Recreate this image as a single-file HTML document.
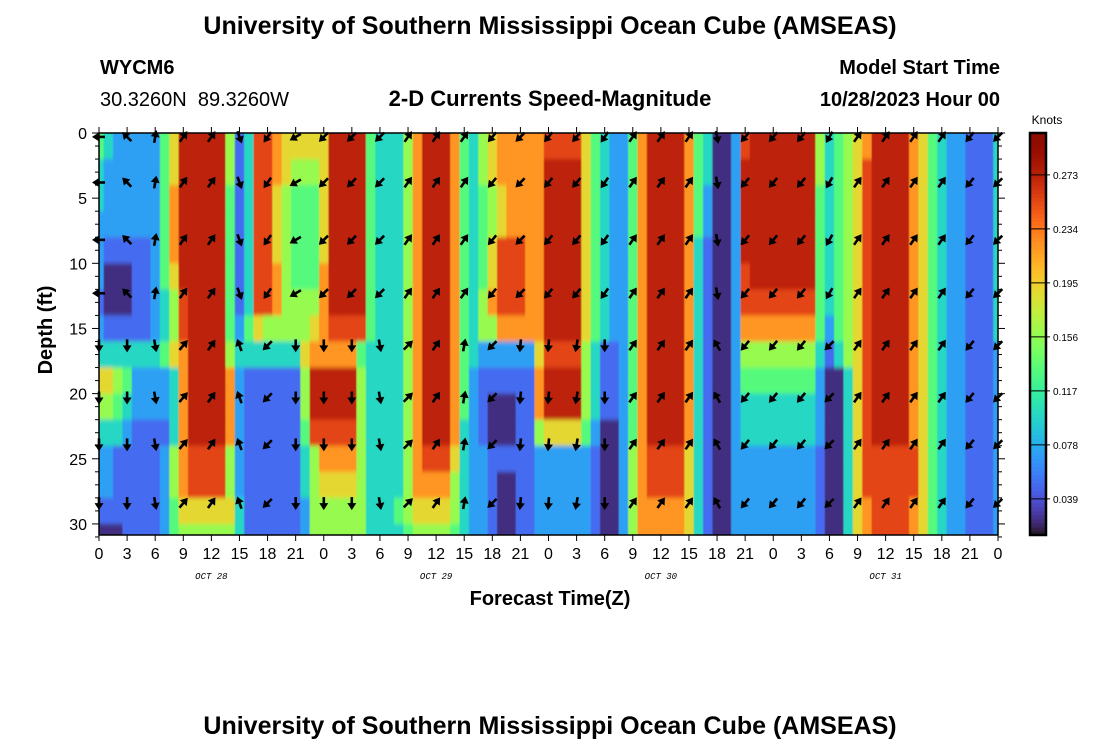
<!DOCTYPE html>
<html><head><meta charset="utf-8"><style>
html,body{margin:0;padding:0;background:#fff;}
svg{display:block;font-family:"Liberation Sans",sans-serif;}
</style></head><body>
<svg id="chart" width="1100" height="750" viewBox="0 0 1100 750" xmlns="http://www.w3.org/2000/svg">
<defs><clipPath id="plotclip"><rect x="99" y="133" width="899" height="402"/></clipPath>
<filter id="soft" x="-2%" y="-2%" width="104%" height="104%"><feGaussianBlur stdDeviation="0.6 2.2"/></filter></defs>
<text x="550" y="34" text-anchor="middle" font-size="25" font-weight="bold">University of Southern Mississippi Ocean Cube (AMSEAS)</text>
<text x="100" y="74" font-size="20" font-weight="bold">WYCM6</text>
<text x="100" y="106" font-size="20" xml:space="preserve">30.3260N  89.3260W</text>
<text x="550" y="106" text-anchor="middle" font-size="22" font-weight="bold">2-D Currents Speed-Magnitude</text>
<text x="1000" y="74" text-anchor="end" font-size="20" font-weight="bold">Model Start Time</text>
<text x="1000" y="106" text-anchor="end" font-size="20" font-weight="bold">10/28/2023 Hour 00</text>
<g clip-path="url(#plotclip)"><g id="heat" filter="url(#soft)"></g></g>
<g id="arrows"></g>
<g id="axes"></g>
<text transform="translate(52,330) rotate(-90)" text-anchor="middle" font-size="20" font-weight="bold">Depth (ft)</text>
<text x="550" y="605" text-anchor="middle" font-size="20" font-weight="bold">Forecast Time(Z)</text>
<g id="cbar"></g>
<text x="1047" y="124" text-anchor="middle" font-size="12">Knots</text>
<text x="550" y="734" text-anchor="middle" font-size="25" font-weight="bold">University of Southern Mississippi Ocean Cube (AMSEAS)</text>
</svg>
<script>
// ---- data ----
const hours = Array.from({length:97},(_,i)=>i);
const depthEdges = [0,2,4,6,8,10,12,14,16,18,20,22,24,26,28,30,31];
const levelSpeeds = [0.024,0.050,0.072,0.100,0.132,0.158,0.190,0.222,0.255,0.272];
// each row: "startHour:level" runs
const speedRows = [
"0:4,1:3,2:2,7:4,8:6,9:9,14:5,15:1,16:3,17:8,19:7,20:6,25:9,29:4,30:3,33:5,34:7,35:9,38:7,39:4,40:3,41:5,42:6,43:7,48:8,52:6,53:4,54:3,55:2,57:4,58:7,59:9,63:7,64:4,65:3,66:0,68:2,69:8,70:9,77:5,78:3,79:4,80:5,81:6,82:7,83:9,87:7,88:6,89:4,90:3,91:2,93:1,96:3",
"0:3,1:2,7:4,8:6,9:9,14:5,15:1,16:3,17:8,19:7,20:6,21:5,24:6,25:9,29:4,30:3,33:5,34:7,35:9,38:7,39:4,40:3,41:5,42:6,43:7,48:9,52:6,53:4,54:3,55:2,57:4,58:7,59:9,63:7,64:4,65:3,66:0,68:2,69:9,77:5,78:3,79:4,80:5,81:6,82:8,83:9,87:7,88:6,89:4,90:3,91:2,93:1,96:3",
"0:3,1:2,7:4,8:7,9:9,14:4,15:1,16:3,17:8,19:6,20:5,21:4,24:6,25:9,29:4,30:3,33:5,34:7,35:9,38:7,39:4,40:3,41:4,42:5,43:6,44:7,48:9,52:6,53:4,54:3,55:2,57:4,58:7,59:9,63:7,64:4,65:2,66:0,68:2,69:9,77:4,78:3,79:4,80:5,81:6,82:8,83:9,87:7,88:6,89:4,90:3,91:2,93:1,96:3",
"0:2,1:2,7:4,8:7,9:9,14:4,15:1,16:3,17:8,19:6,20:5,21:4,24:6,25:9,29:4,30:3,33:5,34:7,35:9,38:7,39:4,40:3,41:4,42:5,43:6,44:7,48:9,52:6,53:4,54:3,55:2,57:4,58:7,59:9,63:7,64:4,65:2,66:0,68:2,69:9,77:4,78:3,79:4,80:5,81:6,82:8,83:9,87:7,88:6,89:4,90:3,91:2,93:1,96:3",
"0:2,1:1,6:2,7:4,8:7,9:9,14:4,15:1,16:3,17:8,19:6,20:5,21:4,24:6,25:9,29:4,30:3,33:5,34:7,35:9,38:7,39:4,40:3,41:4,42:6,43:8,46:7,48:9,52:6,53:4,54:3,55:2,57:4,58:7,59:9,63:7,64:3,65:1,66:0,68:2,69:9,77:4,78:3,79:4,80:5,81:6,82:8,83:9,87:7,88:6,89:4,90:3,91:2,93:1,96:3",
"0:2,1:0,4:1,6:2,7:4,8:6,9:9,14:4,15:1,16:3,17:8,19:7,20:5,21:4,24:7,25:9,29:4,30:3,33:5,34:7,35:9,38:7,39:4,40:3,41:4,42:6,43:8,46:7,48:9,52:6,53:4,54:3,55:2,57:4,58:7,59:9,63:7,64:3,65:1,66:0,68:2,69:8,70:9,77:4,78:3,79:4,80:5,81:6,82:8,83:9,87:7,88:6,89:4,90:3,91:2,93:1,96:3",
"0:1,1:0,4:1,6:2,7:3,8:5,9:8,10:9,14:4,15:1,16:3,17:8,19:7,20:5,24:7,25:9,29:4,30:3,33:5,34:7,35:9,38:7,39:4,40:3,41:5,42:7,43:8,46:7,48:9,52:6,53:4,54:3,55:2,57:4,58:7,59:9,63:7,64:3,65:1,66:0,68:2,69:8,77:4,78:3,79:4,80:5,81:6,82:8,83:9,87:7,88:6,89:4,90:3,91:2,93:1,96:3",
"0:2,1:1,6:2,7:3,8:5,9:8,10:9,14:4,15:2,16:4,17:6,18:5,23:6,24:7,25:8,29:4,30:3,33:5,34:7,35:9,38:7,39:4,40:3,41:5,43:7,48:9,52:6,53:4,54:3,55:2,57:4,58:7,59:9,63:7,64:3,65:1,66:0,68:2,69:7,77:4,78:2,79:4,80:5,81:6,82:8,83:9,87:7,88:6,89:4,90:3,91:2,93:1,96:3",
"0:3,7:4,8:6,9:7,10:9,14:5,15:3,22:6,23:7,28:4,29:3,33:5,34:7,35:9,38:7,39:4,40:3,41:2,47:6,48:8,52:5,53:3,54:1,56:2,57:4,58:7,59:9,63:7,64:3,65:1,66:0,68:2,69:5,77:3,78:1,79:3,80:5,81:6,82:8,83:9,87:7,88:6,89:4,90:3,91:2,93:1,96:2",
"0:6,2:5,3:4,4:2,8:3,9:7,10:9,14:7,15:2,16:1,22:5,23:9,28:5,29:3,33:5,34:7,35:9,38:7,39:4,40:2,41:1,47:7,48:9,52:5,53:3,54:1,56:2,57:4,58:7,59:9,63:7,64:3,65:1,66:0,68:2,69:4,77:2,78:0,80:3,81:6,82:8,83:9,87:7,88:6,89:4,90:3,91:2,93:1,96:2",
"0:5,2:4,3:3,4:2,8:3,9:7,10:9,14:7,15:2,16:1,22:5,23:9,28:5,29:3,33:5,34:7,35:9,38:7,39:4,40:2,41:1,42:0,45:1,47:7,48:9,52:5,53:3,54:1,56:2,57:4,58:7,59:9,63:7,64:3,65:1,66:0,68:2,69:3,77:2,78:0,80:3,81:6,82:8,83:9,87:7,88:6,89:4,90:3,91:2,93:1,96:2",
"0:3,3:2,4:1,8:3,9:7,10:9,14:7,15:2,16:1,22:4,23:8,28:5,29:3,33:5,34:7,35:9,38:7,39:3,40:2,41:1,42:0,45:1,47:5,48:6,52:4,53:2,54:0,56:2,57:4,58:7,59:9,63:7,64:3,65:1,66:0,68:2,69:3,77:2,78:0,80:3,81:6,82:8,83:9,87:7,88:6,89:4,90:3,91:2,93:1,96:2",
"0:2,2:1,7:2,8:5,9:7,10:8,14:5,15:2,16:1,22:3,23:5,24:7,28:5,29:3,33:5,34:7,35:8,38:6,39:3,40:2,42:1,47:2,53:1,54:0,56:2,57:5,58:7,59:8,63:6,64:3,65:1,66:0,68:2,77:1,78:0,80:3,81:6,82:8,88:6,89:4,90:3,91:2,93:1,96:2",
"0:2,2:1,7:2,8:5,9:7,10:8,14:5,15:2,16:1,22:3,23:5,24:6,28:5,29:3,33:5,34:7,38:5,39:3,40:2,42:1,43:0,45:1,47:2,53:1,54:0,56:2,57:5,58:7,59:8,63:6,64:3,65:1,66:0,68:2,77:1,78:0,80:3,81:6,82:8,88:6,89:4,90:3,91:2,93:1,96:2",
"0:1,7:2,8:4,9:6,15:3,16:1,22:2,23:5,29:3,32:4,33:5,34:6,38:5,39:3,40:2,42:1,43:0,45:1,47:2,53:1,54:0,56:2,57:5,58:7,63:6,64:3,65:1,66:0,68:2,77:1,78:0,80:3,81:6,82:7,83:8,87:7,88:6,89:4,90:3,91:2,93:1,96:2",
"0:0,3:1,7:2,8:4,9:5,15:3,16:1,22:2,23:5,29:3,33:4,34:5,38:4,39:3,40:2,42:1,43:0,45:1,47:2,53:1,54:0,56:2,57:5,58:7,63:6,64:3,65:1,66:0,68:2,77:1,78:0,80:3,81:6,82:7,83:8,87:7,88:6,89:4,90:3,91:2,93:1,96:2"
];
const arrowHours = [0,3,6,9,12,15,18,21,24,27,30,33,36,39,42,45,48,51,54,57,60,63,66,69,72,75,78,81,84,87,90,93,96];
const arrowDepths = [0.3,3.8,8.2,12.3,16.3,20.3,23.9,28.4];
const dirTop = [270,315,10,35,35,160,215,240,225,225,225,35,35,35,220,225,220,220,215,35,35,35,170,220,220,220,210,35,35,35,35,220,225];
const dirBottom = [180,180,170,40,35,340,225,180,180,180,170,45,35,10,225,185,185,190,180,35,35,35,330,220,220,220,225,35,35,35,35,220,225];
const yTicks = [0,5,10,15,20,25,30];
const xTickLabels = ["0","3","6","9","12","15","18","21","0","3","6","9","12","15","18","21","0","3","6","9","12","15","18","21","0","3","6","9","12","15","18","21","0"];
const dateLabels = ["OCT 28","OCT 29","OCT 30","OCT 31"];
const dateHours = [12,36,60,84];
const cbarTicks = [0.273,0.234,0.195,0.156,0.117,0.078,0.039];

// ---- scales ----
const X0=99,X1=998,Y0=133,Y1=535,HMAX=96,DMAX=30.85;
const xs=h=>X0+(h/HMAX)*(X1-X0);
const ys=d=>Y0+(d/DMAX)*(Y1-Y0);
const SMIN=0.0129,SMAX=0.3032;
function turbo(t){t=Math.max(0,Math.min(1,t));
 const r=0.13572138+t*(4.61539260+t*(-42.66032258+t*(132.13108234+t*(-152.94239396+t*59.28637943))));
 const g=0.09140261+t*(2.19418839+t*(4.84296658+t*(-14.18503333+t*(4.27729857+t*2.82956604))));
 const b=0.10667330+t*(12.64194608+t*(-60.58204836+t*(110.36276771+t*(-89.90310912+t*27.34824973))));
 const c=v=>Math.round(255*Math.max(0,Math.min(1,v)));return `rgb(${c(r)},${c(g)},${c(b)})`;}
const col=s=>turbo((s-SMIN)/(SMAX-SMIN));
const NS="http://www.w3.org/2000/svg";
function mk(tag,attrs,parent){const e=document.createElementNS(NS,tag);for(const k in attrs)e.setAttribute(k,attrs[k]);parent.appendChild(e);return e;}
function expand(row){const runs=row.split(",").map(p=>p.split(":").map(Number));const out=[];
 for(let i=0;i<runs.length;i++){const end=i+1<runs.length?runs[i+1][0]:hours.length;for(let h=runs[i][0];h<end;h++)out[h]=levelSpeeds[runs[i][1]];}return out;}

// ---- heatmap ----
const heat=document.getElementById("heat");
speedRows.forEach((row,ri)=>{const vals=expand(row);
 let yA=ys(depthEdges[ri]),yB=ys(depthEdges[ri+1]);
 if(ri===0)yA-=6; if(ri===speedRows.length-1)yB+=6;
 hours.forEach((h,hi)=>{let xa=xs(Math.max(0,h-0.5)),xb=xs(Math.min(HMAX,h+0.5));
  if(h===0)xa-=6; if(h===HMAX)xb+=6;
  const r=mk("rect",{x:xa.toFixed(2),y:yA.toFixed(2),width:(xb-xa+0.6).toFixed(2),height:(yB-yA+0.6).toFixed(2),fill:col(vals[hi])},heat);
  
  
 });
});

// ---- arrows ----
const ag=document.getElementById("arrows");
arrowHours.forEach((h,i)=>{arrowDepths.forEach((d,j)=>{
 const ang=j<4?dirTop[i]:dirBottom[i];
 const g=mk("g",{transform:`translate(${xs(h).toFixed(1)},${ys(d).toFixed(1)}) rotate(${ang})`},ag);
 
 
 mk("line",{x1:0,y1:6,x2:0,y2:-2,stroke:"#000","stroke-width":2.6},g);
 mk("polygon",{points:"0,-7 -4.5,0 4.5,0",fill:"#000"},g);
});});

// ---- axes ----
const ax=document.getElementById("axes");
mk("rect",{x:X0,y:Y0,width:X1-X0,height:Y1-Y0,fill:"none",stroke:"#000","stroke-width":1.5},ax);
for(let d=0;d<=31;d++){const y=ys(d);const big=d%5===0;
 mk("line",{x1:X0-(big?7:4),y1:y,x2:X0,y2:y,stroke:"#000","stroke-width":1},ax);
 mk("line",{x1:X1,y1:y,x2:X1+(big?7:4),y2:y,stroke:"#000","stroke-width":1},ax);}
yTicks.forEach(d=>{const t=mk("text",{x:X0-12,y:ys(d)+6,"text-anchor":"end","font-size":16},ax);t.textContent=d;
 
 });
xTickLabels.forEach((lab,i)=>{const h=i*3,x=xs(h);
 mk("line",{x1:x,y1:Y1,x2:x,y2:Y1+6,stroke:"#000","stroke-width":1},ax);
 mk("line",{x1:x,y1:Y0-6,x2:x,y2:Y0,stroke:"#000","stroke-width":1},ax);
 const t=mk("text",{x:x,y:Y1+24,"text-anchor":"middle","font-size":16},ax);t.textContent=lab;
 
 });
dateLabels.forEach((lab,i)=>{const t=mk("text",{x:xs(dateHours[i]),y:579,"text-anchor":"middle","font-size":9,"font-style":"italic","font-family":"Liberation Mono, monospace"},ax);t.textContent=lab;
 
 });

// ---- colorbar ----
const cb=document.getElementById("cbar");
const CX=1030,CW=16;
const cys=s=>Y1-(s-SMIN)/(SMAX-SMIN)*(Y1-Y0);
for(let i=0;i<100;i++){const s0=SMIN+(SMAX-SMIN)*i/100,s1=SMIN+(SMAX-SMIN)*(i+1)/100;
 mk("rect",{x:CX,y:cys(s1),width:CW,height:cys(s0)-cys(s1)+0.5,fill:col((s0+s1)/2)},cb);}
cbarTicks.forEach(v=>{const y=cys(v);
 mk("line",{x1:CX,y1:y,x2:CX+CW+4,y2:y,stroke:"#000","stroke-width":1},cb);
 const t=mk("text",{x:CX+CW+7,y:y+4,"font-size":10},cb);t.textContent=v.toFixed(3);
 
 });
mk("rect",{x:CX,y:Y0,width:CW,height:Y1-Y0,fill:"none",stroke:"#000","stroke-width":2.5},cb);
</script>
</body></html>
